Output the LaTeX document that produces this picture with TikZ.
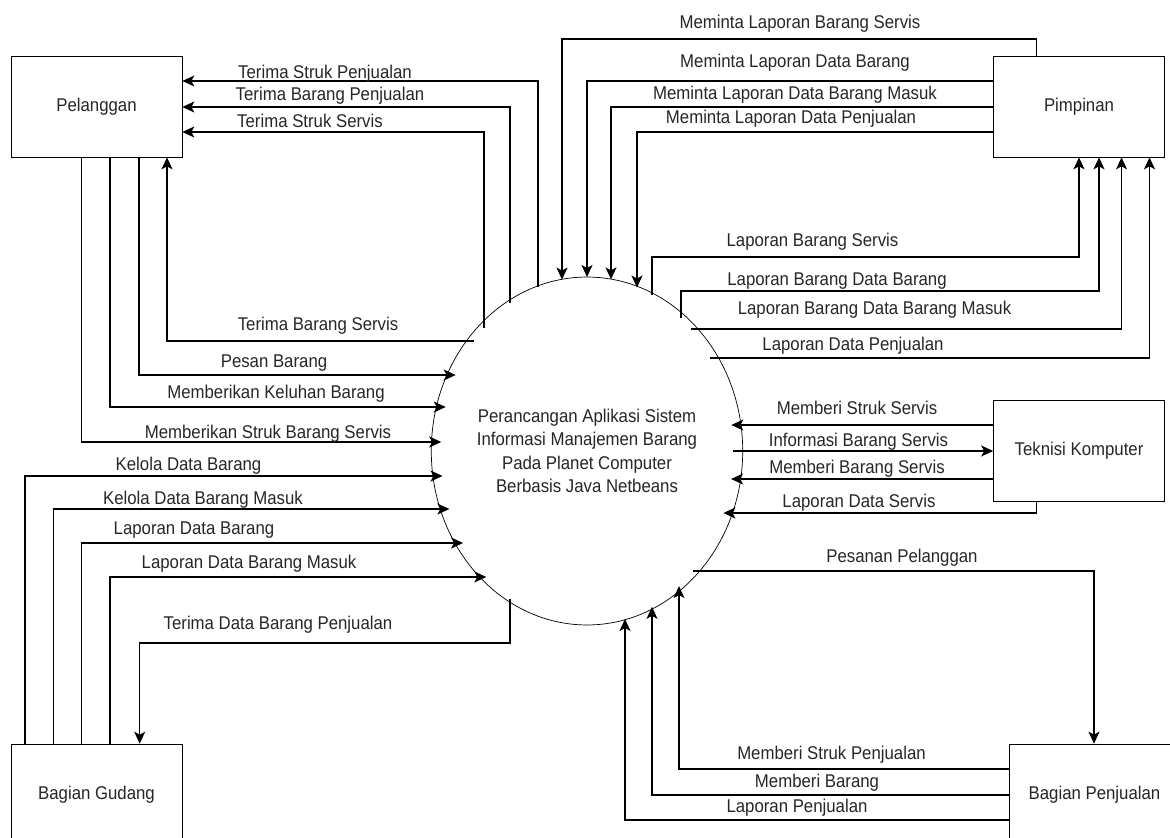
\documentclass[tikz,border=0pt]{standalone}
\usepackage{fontspec}
\setmainfont{Liberation Sans}[FakeStretch=0.91]
\usetikzlibrary{shapes.geometric,arrows.meta}

\begin{document}
\begin{tikzpicture}[x=0.02cm, y=-0.02cm,
	font=\fontsize{10.5}{13.3}\selectfont,
	entity/.style={draw=black, fill=white, minimum width=3.42cm, minimum height=2.02cm, inner sep=0pt, text=black!85},
	process/.style={draw=black, fill=white, shape=ellipse, minimum width=5.84cm, minimum height=6.96cm, inner sep=0pt, align=center, text=black!85},
	flow/.style={draw=black, line width=0.7pt, -{Stealth[length=2.4mm, width=2.2mm, inset=0.6mm]}},
	lbl/.style={inner sep=0pt, anchor=base, text=black!85}]
	\useasboundingbox (0,0) rectangle (1170,838);
	\clip (0,0) rectangle (1170,838);

	% external entities and the process
	\node [entity] (pel) at (96.5,106.5) {Pelanggan};
	\node [entity] (pim) at (1079,106.5) {Pimpinan};
	\node [entity] (tek) at (1079,450.5) {Teknisi Komputer};
	\node [entity] (gud) at (96.5,794.5) {Bagian Gudang};
	\node [entity] (jual) at (1094.5,794.5) {Bagian Penjualan};
	\node [process] (sys) at (587,451) {Perancangan Aplikasi Sistem\\Informasi Manajemen Barang\\Pada Planet Computer\\Berbasis Java Netbeans};

	% points on the border of the process
	\foreach \y in {341,375,407,442,476,509,543,577}
		\coordinate (L-\y) at ({587-146*sqrt(1-((\y-451)/174)^2)},\y);
	\foreach \y in {329,358,425,451,479,513,571}
		\coordinate (R-\y) at ({587+146*sqrt(1-((\y-451)/174)^2)},\y);
	\foreach \x in {484,510,538,562,587,611,637,652,681}
		\coordinate (T-\x) at (\x,{451-174*sqrt(1-((\x-587)/146)^2)});
	\foreach \x in {510,625,652,679}
		\coordinate (B-\x) at (\x,{451+174*sqrt(1-((\x-587)/146)^2)});

	% Pelanggan
	\draw [flow] (T-538) |- (pel.east |- 0,81);
	\draw [flow] (T-510) |- (pel.east |- 0,107);
	\draw [flow] (T-484) |- (pel.east |- 0,132);
	\draw [flow] (L-341) -| (pel.south -| 167,0);
	\draw [flow] (pel.south -| 139,0) |- (L-375);
	\draw [flow] (pel.south -| 110,0) |- (L-407);
	\draw [flow] (pel.south -| 81.5,0) |- (L-442);

	\node [lbl] (tStrukJual) at (325,79) {Terima Struk Penjualan};
	\node [lbl] (tBrgJual) at (330,101) {Terima Barang Penjualan};
	\node [lbl] (tStrukServis) at (310,128) {Terima Struk Servis};
	\node [lbl] (tBrgServis) at (318,330) {Terima Barang Servis};
	\node [lbl] (pesan) at (274,367) {Pesan Barang};
	\node [lbl] (keluhan) at (276,398) {Memberikan Keluhan Barang};
	\node [lbl] (strukServis) at (268,438) {Memberikan Struk Barang Servis};

	% Bagian Gudang
	\draw [flow] (gud.north -| 25,0) |- (L-476);
	\draw [flow] (gud.north -| 53.6,0) |- (L-509);
	\draw [flow] (gud.north -| 81.5,0) |- (L-543);
	\draw [flow] (gud.north -| 110,0) |- (L-577);
	\draw [flow] (B-510) |- (139.7,643) -- (gud.north -| 139.7,0);

	\node [lbl] (kelola) at (188.5,470) {Kelola Data Barang};
	\node [lbl] (kelolaMasuk) at (203,504) {Kelola Data Barang Masuk};
	\node [lbl] (lapBrg) at (194,534) {Laporan Data Barang};
	\node [lbl] (lapMasuk) at (249,568) {Laporan Data Barang Masuk};
	\node [lbl] (tDataJual) at (278,629) {Terima Data Barang Penjualan};

	% Pimpinan
	\draw [flow] (pim.north -| 1036.6,0) -- (1036.6,39) -| (T-562);
	\draw [flow] (pim.west |- 0,81) -| (T-587);
	\draw [flow] (pim.west |- 0,107) -| (T-611);
	\draw [flow] (pim.west |- 0,132) -| (T-637);
	\draw [flow] (T-652) |- (pim.south |- 0,257) -- (pim.south);
	\draw [flow] (T-681) |- (1099,291) -- (pim.south -| 1099,0);
	\draw [flow] (R-329) -| (pim.south -| 1121.5,0);
	\draw [flow] (R-358) -| (pim.south -| 1149.5,0);

	\node [lbl] (mLapServis) at (800,29) {Meminta Laporan Barang Servis};
	\node [lbl] (mLapData) at (795,68) {Meminta Laporan Data Barang};
	\node [lbl] (mLapMasuk) at (795,100) {Meminta Laporan Data Barang Masuk};
	\node [lbl] (mLapJual) at (791,124) {Meminta Laporan Data Penjualan};
	\node [lbl] (lapServis) at (812.5,246) {Laporan Barang Servis};
	\node [lbl] (lapDataBrg) at (837,285) {Laporan Barang Data Barang};
	\node [lbl] (lapDataMasuk) at (874.5,314) {Laporan Barang Data Barang Masuk};
	\node [lbl] (lapDataJual) at (853,350) {Laporan Data Penjualan};

	% Teknisi Komputer
	\draw [flow] (tek.west |- 0,425) -- (R-425);
	\draw [flow] (R-451) -- (tek.west |- 0,451);
	\draw [flow] (tek.west |- 0,479) -- (R-479);
	\draw [flow] (tek.south -| 1036.6,0) |- (R-513);

	\node [lbl] (bStrukServis) at (857,414) {Memberi Struk Servis};
	\node [lbl] (infoServis) at (858.5,446) {Informasi Barang Servis};
	\node [lbl] (bBrgServis) at (857,473) {Memberi Barang Servis};
	\node [lbl] (lapDataServis) at (859,507) {Laporan Data Servis};

	% Bagian Penjualan
	\draw [flow] (R-571) -| (jual.north -| 1094,0);
	\draw [flow] (jual.west |- 0,769) -| (B-679);
	\draw [flow] (jual.west |- 0,795) -| (B-652);
	\draw [flow] (jual.west |- 0,820) -| (B-625);

	\node [lbl] (pesanan) at (902,562) {Pesanan Pelanggan};
	\node [lbl] (bStrukJual) at (831.5,759) {Memberi Struk Penjualan};
	\node [lbl] (bBrg) at (817,787) {Memberi Barang};
	\node [lbl] (lapJual) at (797,812) {Laporan Penjualan};
\end{tikzpicture}
\end{document}
